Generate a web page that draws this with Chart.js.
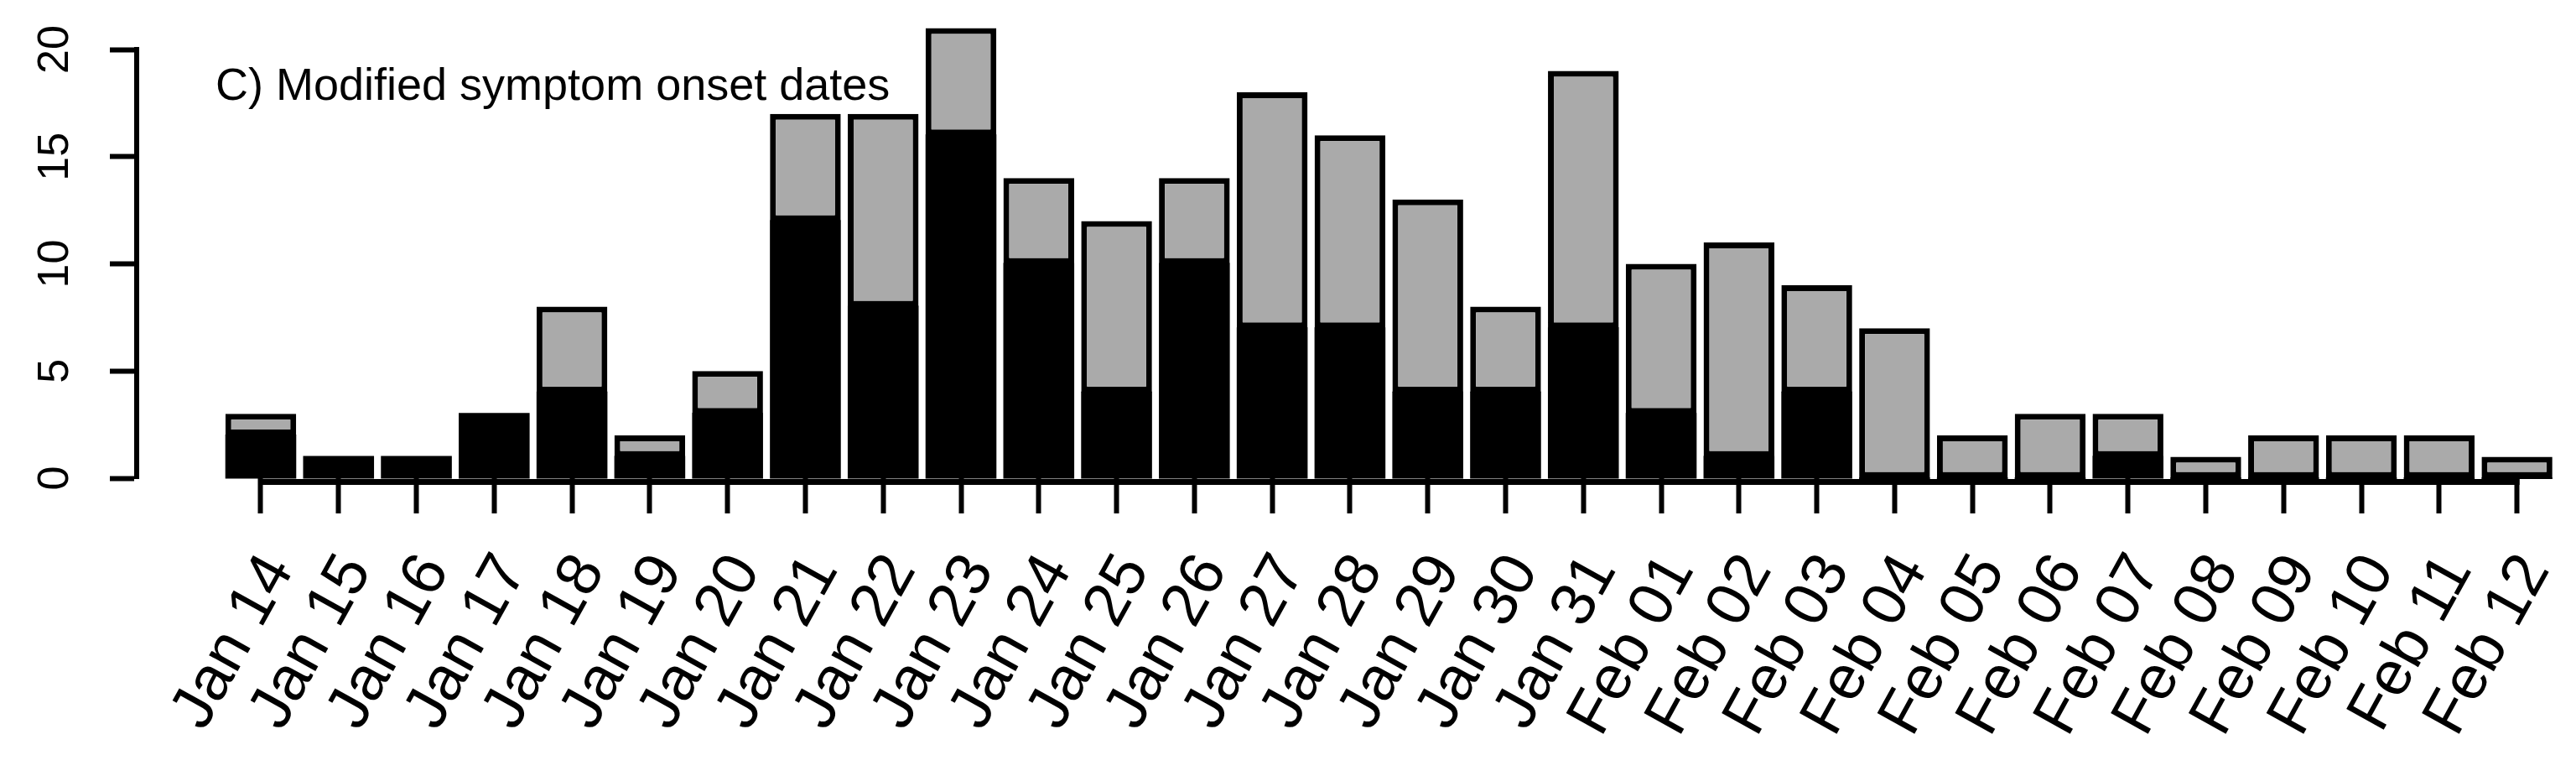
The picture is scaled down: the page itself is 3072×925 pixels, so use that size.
<!DOCTYPE html>
<html>
<head>
<meta charset="utf-8">
<script src="https://cdn.jsdelivr.net/npm/chart.js@4.4.1/dist/chart.umd.min.js"></script>
<style>
html, body { margin: 0; padding: 0; background: #ffffff; }
#wrap { width: 3072px; height: 925px; position: relative; }
</style>
</head>
<body>
<div id="wrap"><canvas id="c"></canvas></div>
<script>
// ---- data ----
const dateLabels = ["Jan 14","Jan 15","Jan 16","Jan 17","Jan 18","Jan 19","Jan 20","Jan 21","Jan 22","Jan 23",
  "Jan 24","Jan 25","Jan 26","Jan 27","Jan 28","Jan 29","Jan 30","Jan 31","Feb 01","Feb 02",
  "Feb 03","Feb 04","Feb 05","Feb 06","Feb 07","Feb 08","Feb 09","Feb 10","Feb 11","Feb 12"];
const blackCounts = [2,1,1,3,4,1,3,12,8,16,10,4,10,7,7,4,4,7,3,1,4,0,0,0,1,0,0,0,0,0];
const greyCounts  = [1,0,0,0,4,1,2,5,9,5,4,8,4,11,9,9,4,12,7,10,5,7,2,3,2,1,2,2,2,1];
const yTickValues = [0,5,10,15,20];
const panelTitle = "C) Modified symptom onset dates";

const FONT = '"Liberation Sans", Arial, Helvetica, sans-serif';

const titlePlugin = {
  id: 'panelTitle',
  afterDraw(chart) {
    const ctx = chart.ctx;
    ctx.save();
    ctx.font = '54px ' + FONT;
    ctx.fillStyle = '#000000';
    ctx.textBaseline = 'alphabetic';
    ctx.textAlign = 'left';
    ctx.fillText(panelTitle, 257, 119);
    ctx.restore();
  }
};

const xAxisLinePlugin = {
  id: 'xAxisLine',
  afterDatasetsDraw(chart) {
    const ctx = chart.ctx;
    const xs = chart.scales.x, ys = chart.scales.y;
    const yPix = ys.getPixelForValue(0) + 4.5;
    ctx.save();
    ctx.strokeStyle = '#000000';
    ctx.lineWidth = 7;
    ctx.lineCap = 'butt';
    ctx.beginPath();
    ctx.moveTo(xs.getPixelForValue(0) - 3, yPix);
    ctx.lineTo(xs.getPixelForValue(dateLabels.length - 1) + 3, yPix);
    ctx.stroke();
    ctx.restore();
  }
};

const toPoints = arr => arr.map((v, i) => ({ x: i, y: v }));

new Chart(document.getElementById('c'), {
  type: 'bar',
  data: {
    datasets: [
      {
        label: 'black',
        data: toPoints(blackCounts),
        backgroundColor: '#000000',
        borderColor: '#000000',
        borderWidth: 0,
        inflateAmount: 1,
        categoryPercentage: 1,
        barPercentage: 0.89,
        clip: false
      },
      {
        label: 'grey',
        data: toPoints(greyCounts),
        backgroundColor: '#aaaaaa',
        borderColor: '#000000',
        borderWidth: 7,
        borderSkipped: false,
        inflateAmount: 0,
        categoryPercentage: 1,
        barPercentage: 0.91,
        clip: false
      }
    ]
  },
  options: {
    responsive: true,
    maintainAspectRatio: false,
    animation: false,
    devicePixelRatio: 1,
    layout: { padding: { top: 59, right: 24, left: 0, bottom: 0 } },
    plugins: {
      legend: { display: false },
      tooltip: { enabled: false },
      title: { display: false }
    },
    scales: {
      x: {
        type: 'linear',
        stacked: true,
        min: -1.595,
        max: 29.5,
        offset: false,
        afterBuildTicks: scale => { scale.ticks = dateLabels.map((_, i) => ({ value: i })); },
        afterFit: scale => {
          scale.height = 355;
          scale.paddingLeft = 0; scale.paddingRight = 0;
          scale.paddingTop = 0; scale.paddingBottom = 0;
        },
        border: { display: false },
        grid: {
          drawOnChartArea: false,
          drawTicks: true,
          tickLength: 42,
          tickWidth: 6,
          tickColor: '#000000',
          offset: false
        },
        ticks: {
          autoSkip: false,
          minRotation: 61,
          maxRotation: 61,
          padding: 35,
          labelOffset: 22,
          color: '#000000',
          font: { family: FONT, size: 74 },
          callback: v => dateLabels[v]
        }
      },
      y: {
        type: 'linear',
        stacked: true,
        min: 0,
        max: 20,
        afterBuildTicks: scale => { scale.ticks = yTickValues.map(v => ({ value: v })); },
        afterFit: scale => {
          scale.width = 163;
          scale.paddingLeft = 0; scale.paddingRight = 0;
          scale.paddingTop = 0; scale.paddingBottom = 0;
        },
        border: { display: true, color: '#000000', width: 6 },
        grid: {
          drawOnChartArea: false,
          drawTicks: true,
          tickLength: 32,
          tickWidth: 6,
          tickColor: '#000000'
        },
        ticks: {
          minRotation: 90,
          maxRotation: 90,
          crossAlign: 'center',
          padding: 35,
          color: '#000000',
          font: { family: FONT, size: 52 }
        }
      }
    }
  },
  plugins: [titlePlugin, xAxisLinePlugin]
});
</script>
</body>
</html>
